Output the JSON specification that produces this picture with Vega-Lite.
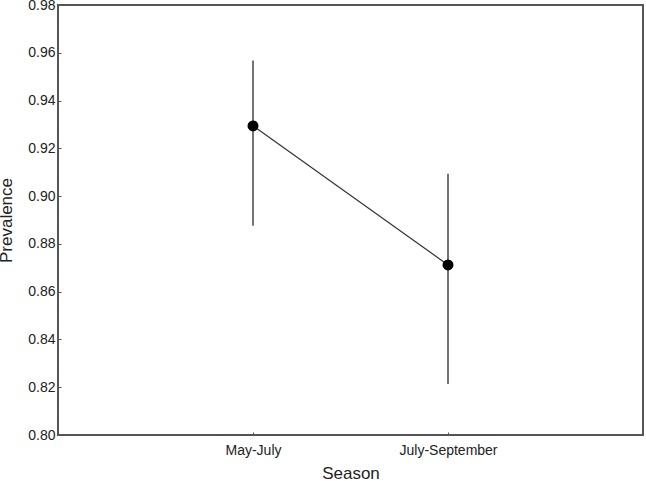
{
  "$schema": "https://vega.github.io/schema/vega-lite/v6.json",
  "width": 585,
  "height": 430,
  "autosize": {"type": "none"},
  "padding": {"left": 58, "top": 5, "right": 3, "bottom": 46},
  "background": "white",
  "config": {
    "view": {"stroke": "#555555", "strokeWidth": 2},
    "font": "Liberation Sans",
    "axis": {
      "domain": false,
      "grid": false,
      "tickColor": "#555555",
      "tickSize": -3,
      "labelColor": "#222222",
      "titleColor": "#222222",
      "titleFontWeight": "normal"
    }
  },
  "data": {
    "values": [
      {"season": "May-July", "mean": 0.9294, "lo": 0.8876, "hi": 0.9568},
      {"season": "July-September", "mean": 0.8712, "lo": 0.8214, "hi": 0.9094}
    ]
  },
  "encoding": {
    "x": {
      "field": "season",
      "type": "ordinal",
      "sort": ["May-July", "July-September"],
      "scale": {"type": "point", "padding": 1},
      "axis": {"title": "Season", "labelAngle": 0, "labelFontSize": 14, "titleFontSize": 17, "labelPadding": 11, "titlePadding": 8}
    }
  },
  "layer": [
    {
      "mark": {"type": "rule", "color": "#444444", "strokeWidth": 1.5},
      "encoding": {
        "y": {"field": "lo", "type": "quantitative"},
        "y2": {"field": "hi"}
      }
    },
    {
      "mark": {"type": "line", "color": "#333333", "strokeWidth": 1.2},
      "encoding": {
        "y": {
          "field": "mean",
          "type": "quantitative",
          "scale": {"domain": [0.8, 0.98], "nice": false, "zero": false},
          "axis": {"title": "Prevalence", "values": [0.8, 0.82, 0.84, 0.86, 0.88, 0.9, 0.92, 0.94, 0.96, 0.98], "format": ".2f", "labelFontSize": 14, "titleFontSize": 17, "labelPadding": 6, "titlePadding": 12}
        }
      }
    },
    {
      "mark": {"type": "point", "filled": true, "color": "black", "opacity": 1, "size": 120},
      "encoding": {
        "y": {"field": "mean", "type": "quantitative"}
      }
    }
  ]
}
